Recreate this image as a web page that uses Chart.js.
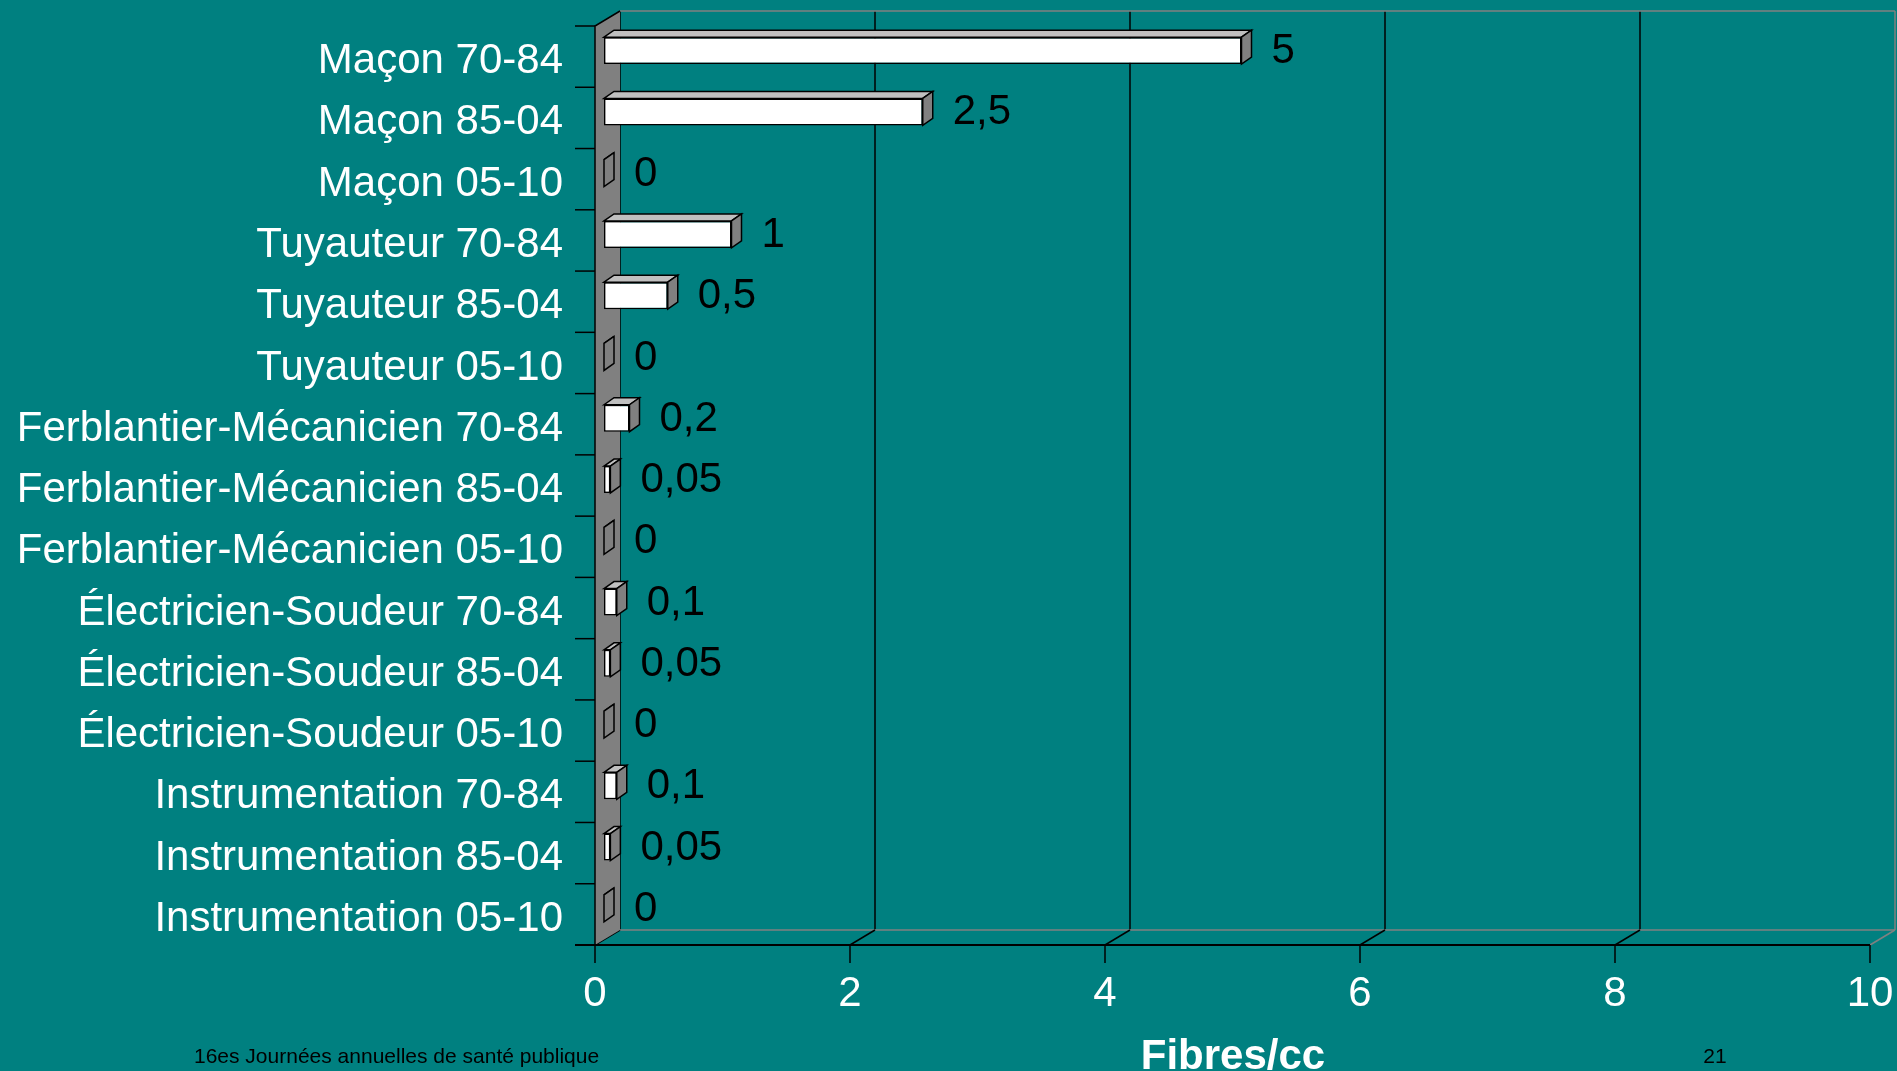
<!DOCTYPE html>
<html>
<head>
<meta charset="utf-8">
<script src="https://cdn.jsdelivr.net/npm/chart.js@4.4.0/dist/chart.umd.min.js"></script>
<style>
  body { margin: 0; background: #008080; }
  #wrap { position: relative; width: 1897px; height: 1071px; overflow: hidden; }
  .txt { position: absolute; font-family: "Liberation Sans", Arial, sans-serif; white-space: nowrap; }
</style>
</head>
<body>
<div id="wrap">
  <canvas id="myChart"></canvas>
  <div class="txt" id="footer" style="left:194px; top:1045px; font-size:21px; line-height:21px; color:#000;">16es Journées annuelles de santé publique</div>
  <div class="txt" id="axisTitle" style="left:1133px; width:200px; text-align:center; top:1034px; font-size:42px; line-height:42px; font-weight:bold; color:#fff;">Fibres/cc</div>
  <div class="txt" id="pageNo" style="left:1695px; width:40px; text-align:center; top:1045px; font-size:21px; line-height:21px; color:#000;">21</div>
</div>
<script>
var categories = [
    "Maçon 70-84", "Maçon 85-04", "Maçon 05-10",
    "Tuyauteur 70-84", "Tuyauteur 85-04", "Tuyauteur 05-10",
    "Ferblantier-Mécanicien 70-84", "Ferblantier-Mécanicien 85-04", "Ferblantier-Mécanicien 05-10",
    "Électricien-Soudeur 70-84", "Électricien-Soudeur 85-04", "Électricien-Soudeur 05-10",
    "Instrumentation 70-84", "Instrumentation 85-04", "Instrumentation 05-10"
];
var values = [5, 2.5, 0, 1, 0.5, 0, 0.2, 0.05, 0, 0.1, 0.05, 0, 0.1, 0.05, 0];
var xTicks = [0, 2, 4, 6, 8, 10];

var FONT = "'Liberation Sans', Arial, sans-serif";
var WALL_DX = 25, WALL_DY = -15;   // depth of the back wall
var BAR_DX = 9, BAR_DY = -6;       // bars sit a bit inside the box
var BOX_DX = 10, BOX_DY = -7;      // depth of each bar

function noScalePadding(s) {
    s.paddingTop = 0;
    s.paddingBottom = 0;
    s.paddingLeft = 0;
    s.paddingRight = 0;
}

// back wall, side wall, floor and ticks
var boxPlugin = {
    id: "box",
    beforeDraw: function (chart) {
        var ctx = chart.ctx, a = chart.chartArea;
        var xs = chart.scales.x, ys = chart.scales.y;
        ctx.save();
        ctx.fillStyle = "#008080";
        ctx.fillRect(0, 0, chart.width, chart.height);

        var bl = a.left + WALL_DX, br = a.right + WALL_DX;
        var bt = a.top + WALL_DY, bb = a.bottom + WALL_DY;

        // back wall grid
        ctx.lineWidth = 1.5;
        xTicks.forEach(function (v) {
            var px = xs.getPixelForValue(v) + WALL_DX;
            ctx.strokeStyle = (v === xTicks[xTicks.length - 1]) ? "#808080" : "#000";
            ctx.beginPath();
            ctx.moveTo(px, bt);
            ctx.lineTo(px, bb);
            ctx.stroke();
        });
        ctx.strokeStyle = "#808080";
        ctx.beginPath();
        ctx.moveTo(bl, bt); ctx.lineTo(br, bt);
        ctx.moveTo(bl, bb); ctx.lineTo(br, bb);
        ctx.stroke();

        // floor diagonals + tick marks
        xTicks.forEach(function (v) {
            var px = xs.getPixelForValue(v);
            ctx.strokeStyle = (v === xTicks[xTicks.length - 1]) ? "#808080" : "#000";
            ctx.beginPath();
            ctx.moveTo(px, a.bottom);
            ctx.lineTo(px + WALL_DX, bb);
            ctx.stroke();
            ctx.strokeStyle = "#000";
            ctx.beginPath();
            ctx.moveTo(px, a.bottom);
            ctx.lineTo(px, a.bottom + 18);
            ctx.stroke();
        });

        // side wall
        ctx.fillStyle = "#808080";
        ctx.beginPath();
        ctx.moveTo(a.left, a.top);
        ctx.lineTo(bl, bt);
        ctx.lineTo(bl, bb);
        ctx.lineTo(a.left, a.bottom);
        ctx.closePath();
        ctx.fill();
        ctx.strokeStyle = "#000";
        ctx.beginPath();
        ctx.moveTo(a.left, a.bottom);
        ctx.lineTo(a.left, a.top);
        ctx.lineTo(bl, bt);
        ctx.stroke();

        // category ticks
        for (var i = 0; i <= categories.length; i++) {
            var py = ys.getPixelForValue(i - 0.5);
            ctx.beginPath();
            ctx.moveTo(a.left - 20, py);
            ctx.lineTo(a.left, py);
            ctx.stroke();
        }

        // front axis line
        ctx.lineWidth = 2;
        ctx.beginPath();
        ctx.moveTo(a.left - 20, a.bottom);
        ctx.lineTo(a.right, a.bottom);
        ctx.stroke();
        ctx.restore();
    },
    beforeDatasetsDraw: function (chart) {
        chart.ctx.save();
        chart.ctx.translate(BAR_DX, BAR_DY);
    },
    afterDatasetsDraw: function (chart) {
        var ctx = chart.ctx;
        var meta = chart.getDatasetMeta(0);
        ctx.lineWidth = 1.5;
        ctx.strokeStyle = "#000";
        meta.data.forEach(function (bar) {
            var p = bar.getProps(["x", "y", "base", "height"], true);
            var top = p.y - p.height / 2, bot = p.y + p.height / 2;
            // top face
            ctx.fillStyle = "#c0c0c0";
            ctx.beginPath();
            ctx.moveTo(p.base, top);
            ctx.lineTo(p.base + BOX_DX, top + BOX_DY);
            ctx.lineTo(p.x + BOX_DX, top + BOX_DY);
            ctx.lineTo(p.x, top);
            ctx.closePath();
            ctx.fill();
            ctx.stroke();
            // right face
            ctx.fillStyle = "#808080";
            ctx.beginPath();
            ctx.moveTo(p.x, top);
            ctx.lineTo(p.x + BOX_DX, top + BOX_DY);
            ctx.lineTo(p.x + BOX_DX, bot + BOX_DY);
            ctx.lineTo(p.x, bot);
            ctx.closePath();
            ctx.fill();
            ctx.stroke();
        });
        ctx.restore();

        // value labels
        ctx.save();
        ctx.font = "42px " + FONT;
        ctx.fillStyle = "#000";
        ctx.textAlign = "left";
        ctx.textBaseline = "middle";
        meta.data.forEach(function (bar, i) {
            var p = bar.getProps(["x", "y"], true);
            var txt = String(values[i]).replace(".", ",");
            ctx.fillText(txt, p.x + BAR_DX + BOX_DX + 20, p.y + BAR_DY + 1);
        });
        ctx.restore();
    }
};

var ctx = document.getElementById("myChart").getContext("2d");
var myChart = new Chart(ctx, {
    type: "bar",
    data: {
        labels: categories,
        datasets: [
            {
                label: "Fibres/cc",
                data: values,
                backgroundColor: "#ffffff",
                borderColor: "#000000",
                borderWidth: 1.5,
                borderSkipped: false,
                barPercentage: 0.44,
                categoryPercentage: 1
            }
        ]
    },
    options: {
        indexAxis: "y",
        responsive: true,
        maintainAspectRatio: false,
        animation: false,
        layout: { padding: { top: 26, right: 27, bottom: 0, left: 0 } },
        plugins: {
            legend: { display: false },
            tooltip: { enabled: false }
        },
        scales: {
            x: {
                min: 0,
                max: 10,
                afterBuildTicks: function (s) {
                    s.ticks = xTicks.map(function (v) { return { value: v }; });
                },
                afterFit: function (s) { s.height = 126; noScalePadding(s); },
                grid: { display: false, drawTicks: false },
                border: { display: false },
                ticks: {
                    color: "#ffffff",
                    font: { family: FONT, size: 42 },
                    padding: 24,
                    maxRotation: 0
                }
            },
            y: {
                afterFit: function (s) { s.width = 595; noScalePadding(s); },
                grid: { display: false, drawTicks: false },
                border: { display: false },
                ticks: {
                    color: "#ffffff",
                    font: { family: FONT, size: 42 },
                    padding: 32,
                    labelOffset: 5,
                    autoSkip: false
                }
            }
        }
    },
    plugins: [boxPlugin]
});
</script>
</body>
</html>
